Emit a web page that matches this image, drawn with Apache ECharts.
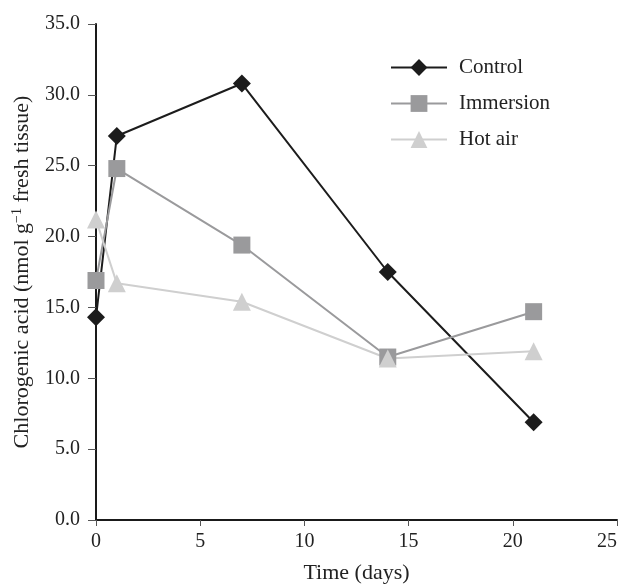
<!DOCTYPE html>
<html>
<head>
<meta charset="utf-8">
<script src="https://cdn.jsdelivr.net/npm/echarts@6/dist/echarts.min.js"></script>
<style>
  html, body { margin: 0; padding: 0; background: #fff; }
  #chart { width: 623px; height: 584px; }
</style>
</head>
<body>
<div id="chart"></div>
<script>
// 时间（天）
const days = [0, 1, 7, 14, 21];
const seriesNames = ['Control', 'Immersion', 'Hot air'];
const control = [14.3, 27.1, 30.8, 17.5, 6.9];
const immersion = [16.9, 24.8, 19.4, 11.5, 14.7];
const hotAir = [21.2, 16.7, 15.4, 11.4, 11.9];

const font = 'Liberation Serif';
const textColor = '#222';

const chart = echarts.init(document.getElementById('chart'));

function makeSeries(name, values, symbol, color, size) {
  return {
    name: name,
    type: 'line',
    data: values.map((v, i) => [days[i], v]),
    symbol: symbol,
    symbolSize: size,
    showSymbol: true,
    lineStyle: { color: color, width: 2 },
    itemStyle: { color: color },
    animation: false
  };
}

const option = {
  backgroundColor: '#fff',
  grid: { left: 96, right: 6, top: 24, bottom: 64, outerBoundsMode: 'none' },
  legend: {
    orient: 'vertical',
    left: 390,
    top: 57,
    padding: 0,
    itemWidth: 56,
    itemHeight: 21,
    itemGap: 15,
    data: seriesNames,
    textStyle: { fontFamily: font, fontSize: 21, color: textColor, padding: [0, 0, 0, 7] }
  },
  xAxis: {
    type: 'value',
    min: 0,
    max: 25,
    interval: 5,
    name: 'Time (days)',
    nameLocation: 'middle',
    nameGap: 42,
    nameTextStyle: { fontFamily: font, fontSize: 22, color: textColor },
    axisLine: { lineStyle: { color: '#1a1a1a', width: 2 } },
    axisTick: { show: true, length: 6, lineStyle: { color: '#555', width: 1 } },
    axisLabel: { fontFamily: font, fontSize: 20, color: textColor, margin: 12, alignMaxLabel: 'right' },
    splitLine: { show: false }
  },
  yAxis: {
    type: 'value',
    min: 0,
    max: 35,
    interval: 5,
    name: '{a|Chlorogenic acid (nmol g}{s|\u22121}{a| fresh tissue)}',
    nameLocation: 'middle',
    nameGap: 62,
    nameTextStyle: {
      rich: {
        a: { fontFamily: font, fontSize: 22, color: textColor },
        s: { fontFamily: font, fontSize: 14, color: textColor, verticalAlign: 'top', padding: [0, 0, 10, 0] }
      }
    },
    axisLine: { show: true, lineStyle: { color: '#1a1a1a', width: 2 } },
    axisTick: { show: true, length: 8, lineStyle: { color: '#555', width: 1 } },
    axisLabel: {
      fontFamily: font,
      fontSize: 20,
      color: textColor,
      margin: 16,
      formatter: v => v.toFixed(1)
    },
    splitLine: { show: false }
  },
  series: [
    makeSeries('Control', control, 'diamond', '#1c1c1c', 18),
    makeSeries('Immersion', immersion, 'rect', '#9a9a9c', 17),
    makeSeries('Hot air', hotAir, 'triangle', '#cfcfcf', 18)
  ]
};

chart.setOption(option);
</script>
</body>
</html>
